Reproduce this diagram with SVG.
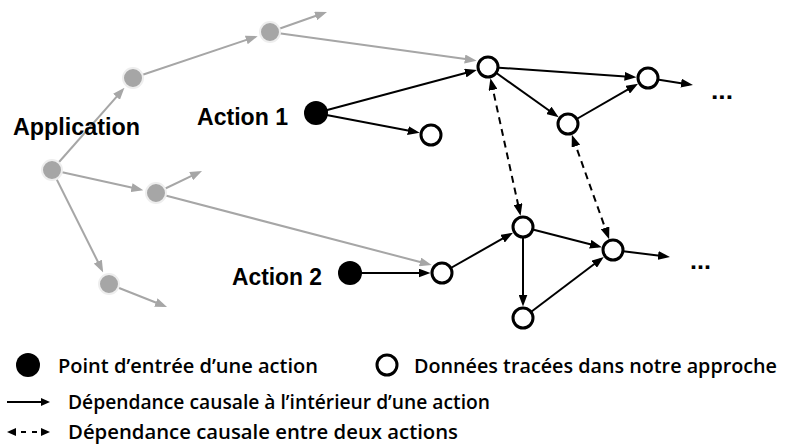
<svg xmlns="http://www.w3.org/2000/svg" width="789" height="447" viewBox="0 0 789 447">
<style>
.g{stroke:#a6a6a6;stroke-width:2;fill:none;marker-end:url(#ag)}
.k{stroke:#000;stroke-width:2;fill:none;marker-end:url(#ak)}
.d{stroke:#000;stroke-width:2;fill:none;stroke-dasharray:7 5;marker-start:url(#ak);marker-end:url(#ak)}
.gn{fill:#a6a6a6;stroke:#eeeeee;stroke-width:2}
.on{fill:#fff;stroke:#000;stroke-width:3}
.en{fill:#000}
.lbl{font-family:"Liberation Sans",Arial,sans-serif;font-weight:bold;font-size:23px;fill:#000}
.leg{font-family:"Open Sans","Liberation Sans",sans-serif;font-weight:600;font-size:20px;fill:#000}
.dots{font-family:"Liberation Sans",Arial,sans-serif;font-weight:bold;font-size:24px;fill:#000}
</style>
<defs>
<marker id="ak" markerUnits="userSpaceOnUse" markerWidth="12" markerHeight="9" viewBox="0 0 12 9" refX="8" refY="4.5" orient="auto-start-reverse"><path d="M0,0 L12,4.5 L0,9 z" fill="#000"/></marker>
<marker id="ag" markerUnits="userSpaceOnUse" markerWidth="12" markerHeight="9" viewBox="0 0 12 9" refX="8" refY="4.5" orient="auto"><path d="M0,0 L12,4.5 L0,9 z" fill="#a6a6a6"/></marker>
<marker id="al" markerUnits="userSpaceOnUse" markerWidth="9" markerHeight="8" viewBox="0 0 9 8" refX="6" refY="4" orient="auto-start-reverse"><path d="M0,0 L9,4 L0,8 z" fill="#000"/></marker>
</defs>
<g id="connectors">
<path class="g" d="M52,170 L121.8,90.8"/>
<path class="g" d="M133,78 L253.9,37.4"/>
<path class="g" d="M270,32 L323.2,13.3"/>
<path class="g" d="M270,32 L472.7,60.1"/>
<path class="g" d="M52,170 L139.4,189.3"/>
<path class="g" d="M156,193 L198.4,172.7"/>
<path class="g" d="M156,193 L427.8,264"/>
<path class="g" d="M52,170 L101.4,268.8"/>
<path class="g" d="M109,284 L163.3,305.5"/>
<path class="k" d="M316,113 L473,71"/>
<path class="k" d="M316,113 L415.8,132.1"/>
<path class="k" d="M488,67 L632.5,76.9"/>
<path class="k" d="M488,67 L555.4,115"/>
<path class="k" d="M568,124 L634.6,85.7"/>
<path class="k" d="M648,78 L689,84.4"/>
<path class="k" d="M350,273 L426.5,273"/>
<path class="k" d="M442,273 L509.5,234.7"/>
<path class="k" d="M523,227 L598,246.2"/>
<path class="k" d="M523,227 L523,302.5"/>
<path class="k" d="M523,318 L600.6,259.3"/>
<path class="k" d="M613,250 L666,256.5"/>
<path class="d" d="M491.3,82.1 L519.7,211.9"/>
<path class="d" d="M573.2,138.6 L607.8,235.4"/>
</g>
<g id="app-root"><circle class="gn" cx="52" cy="170" r="10"/></g>
<g id="app-b"><circle class="gn" cx="133" cy="78" r="10"/></g>
<g id="app-c"><circle class="gn" cx="270" cy="32" r="10"/></g>
<g id="app-d"><circle class="gn" cx="156" cy="193" r="10"/></g>
<g id="app-e"><circle class="gn" cx="109" cy="284" r="10"/></g>
<g id="application-label"><text class="lbl" x="13" y="135" textLength="127" lengthAdjust="spacingAndGlyphs">Application</text></g>
<g id="action1"><circle class="en" cx="316" cy="113" r="12"/><text class="lbl" x="197" y="125" textLength="91" lengthAdjust="spacingAndGlyphs">Action 1</text></g>
<g id="n1"><circle class="on" cx="488" cy="67" r="10"/></g>
<g id="n2"><circle class="on" cx="431" cy="135" r="10"/></g>
<g id="n3"><circle class="on" cx="568" cy="124" r="10"/></g>
<g id="n4"><circle class="on" cx="648" cy="78" r="10"/></g>
<g id="dots1"><text class="dots" x="711" y="99" textLength="22" lengthAdjust="spacingAndGlyphs">...</text></g>
<g id="action2"><circle class="en" cx="350" cy="273" r="12"/><text class="lbl" x="232" y="285" textLength="90" lengthAdjust="spacingAndGlyphs">Action 2</text></g>
<g id="m1"><circle class="on" cx="442" cy="273" r="10"/></g>
<g id="m2"><circle class="on" cx="523" cy="227" r="10"/></g>
<g id="m3"><circle class="on" cx="613" cy="250" r="10"/></g>
<g id="m4"><circle class="on" cx="523" cy="318" r="10"/></g>
<g id="dots2"><text class="dots" x="690" y="269" textLength="21" lengthAdjust="spacingAndGlyphs">...</text></g>
<g id="legend">
<circle class="en" cx="28" cy="365" r="12"/>
<text class="leg" x="58" y="373" textLength="260" lengthAdjust="spacingAndGlyphs">Point d’entrée d’une action</text>
<circle class="on" cx="387" cy="365" r="10"/>
<text class="leg" x="414" y="373" textLength="363" lengthAdjust="spacingAndGlyphs">Données tracées dans notre approche</text>
<path d="M7,402 L47,402" stroke="#000" stroke-width="2" marker-end="url(#al)"/>
<text class="leg" x="68" y="409" textLength="422" lengthAdjust="spacingAndGlyphs">Dépendance causale à l’intérieur d’une action</text>
<path d="M10,432 L47,432" stroke="#000" stroke-width="2" stroke-dasharray="5 6" marker-start="url(#al)" marker-end="url(#al)"/>
<text class="leg" x="68" y="439" textLength="390" lengthAdjust="spacingAndGlyphs">Dépendance causale entre deux actions</text>
</g>
</svg>
